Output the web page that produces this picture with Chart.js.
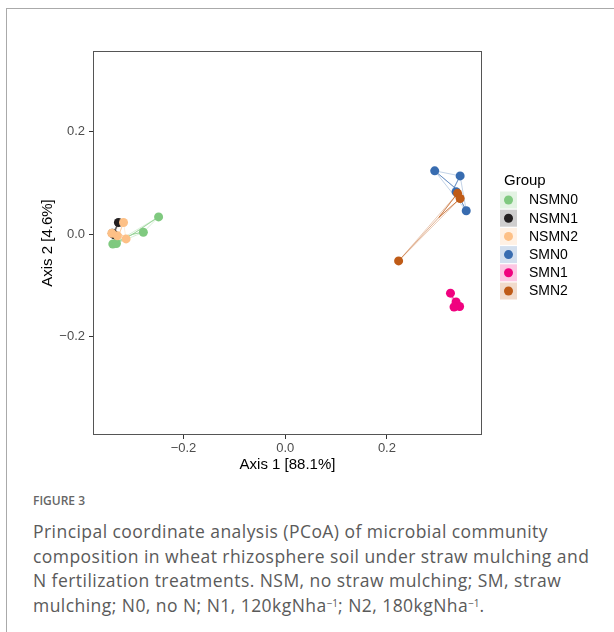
<!DOCTYPE html>
<html>
<head>
<meta charset="utf-8">
<script src="https://cdn.jsdelivr.net/npm/chart.js@4"></script>
<style>
  html, body { margin: 0; padding: 0; background: #fff; }
  body { width: 614px; height: 632px; position: relative; overflow: hidden; }
  .frame { position: absolute; left: 6px; top: 8px; width: 700px; height: 700px;
           border-top: 1px solid #aaa; border-left: 1px solid #aaa; }
  #myChart { position: absolute; left: 0; top: 0; }
  .fig { position: absolute; left: 33px; top: 492px; font-family: "Open Sans", sans-serif;
         font-size: 12px; font-weight: 600; color: #666; }
  .cap { position: absolute; left: 33px; top: 519px; white-space: nowrap; font-family: "Open Sans", sans-serif;
         font-size: 17.5px; letter-spacing: 0.45px; line-height: 24.5px; color: #5a5a5a; }
  .cap sup { font-size: 10px; vertical-align: 5px; line-height: 0; letter-spacing: 0; }
</style>
</head>
<body>
<div class="frame"></div>
<canvas id="myChart" width="614" height="480"></canvas>
<div class="fig">FIGURE 3</div>
<div class="cap">Principal coordinate analysis (PCoA) of microbial community<br>composition in wheat rhizosphere soil under straw mulching and<br>N fertilization treatments. NSM, no straw mulching; SM, straw<br>mulching; N0, no N; N1, 120kgNha<sup>−1</sup>; N2, 180kgNha<sup>−1</sup>.</div>
<script>
// Groups
const groups = ["NSMN0", "NSMN1", "NSMN2", "SMN0", "SMN1", "SMN2"];
const colors = ["#7FC97F", "#231F20", "#FDC086", "#386CB0", "#F0027F", "#BF5B17"];

// Axis 1 / Axis 2 scores per group
const nsmn0X = [-0.249, -0.279, -0.339, -0.332];
const nsmn0Y = [0.034, 0.004, -0.019, -0.018];
const nsmn1X = [-0.328, -0.340, -0.336];
const nsmn1Y = [0.023, 0.002, -0.001];
const nsmn2X = [-0.318, -0.341, -0.313, -0.330];
const nsmn2Y = [0.023, 0.002, -0.009, -0.003];
const smn0X = [0.294, 0.344, 0.356, 0.336];
const smn0Y = [0.124, 0.114, 0.046, 0.083];
const smn1X = [0.325, 0.336, 0.343, 0.332];
const smn1Y = [-0.115, -0.132, -0.141, -0.142];
const smn2X = [0.339, 0.344, 0.223];
const smn2Y = [0.080, 0.070, -0.052];

const xs = [nsmn0X, nsmn1X, nsmn2X, smn0X, smn1X, smn2X];
const ys = [nsmn0Y, nsmn1Y, nsmn2Y, smn0Y, smn1Y, smn2Y];

// Tick labels
const xTicks = [-0.2, 0.0, 0.2];
const yTicks = [-0.2, 0.0, 0.2];

function alpha(hex, a) {
  const n = parseInt(hex.slice(1), 16);
  return `rgba(${n >> 16},${(n >> 8) & 255},${n & 255},${a})`;
}

// convex hull (monotone chain)
function hull(pts) {
  const p = pts.slice().sort((a, b) => a.x - b.x || a.y - b.y);
  if (p.length < 3) return p;
  const cross = (o, a, b) => (a.x - o.x) * (b.y - o.y) - (a.y - o.y) * (b.x - o.x);
  const lower = [], upper = [];
  for (const q of p) {
    while (lower.length >= 2 && cross(lower[lower.length - 2], lower[lower.length - 1], q) <= 0) lower.pop();
    lower.push(q);
  }
  for (let i = p.length - 1; i >= 0; i--) {
    const q = p[i];
    while (upper.length >= 2 && cross(upper[upper.length - 2], upper[upper.length - 1], q) <= 0) upper.pop();
    upper.push(q);
  }
  upper.pop(); lower.pop();
  return lower.concat(upper);
}

const datasets = [];
groups.forEach((g, i) => {
  const pts = xs[i].map((x, k) => ({ x: x, y: ys[i][k] }));
  const cx = xs[i].reduce((a, b) => a + b, 0) / pts.length;
  const cy = ys[i].reduce((a, b) => a + b, 0) / pts.length;
  const h = hull(pts);
  // shaded hull
  datasets.push({
    label: g + " hull", data: h.concat([h[0]]), showLine: true, fill: true,
    backgroundColor: alpha(colors[i], 0.3), borderColor: alpha(colors[i], 0.3), borderWidth: 1,
    pointRadius: 0, order: 30,
  });
  // spider lines from centroid
  const spider = [];
  pts.forEach(p => { spider.push({ x: cx, y: cy }, p); });
  datasets.push({
    label: g + " spider", data: spider, showLine: true, fill: false,
    borderColor: alpha(colors[i], 0.5), borderWidth: 1, pointRadius: 0, order: 20,
  });
  // points
  datasets.push({
    label: g, data: pts, backgroundColor: colors[i], borderColor: colors[i],
    pointRadius: 4.5, borderWidth: 0, order: 10 - i,
  });
});

// plot frame + legend
const extras = {
  id: "extras",
  afterDraw(chart) {
    const { ctx, chartArea: a } = chart;
    ctx.save();
    ctx.strokeStyle = "#555";
    ctx.lineWidth = 1;
    ctx.strokeRect(Math.round(a.left) + 0.5, Math.round(a.top) + 0.5,
      Math.round(a.right - a.left) - 1, Math.round(a.bottom - a.top) - 1);
    ctx.fillStyle = "#000";
    ctx.font = "15px 'Liberation Sans', Arial, sans-serif";
    ctx.textBaseline = "middle";
    ctx.fillText("Group", 504, 181);
    ctx.font = "14px 'Liberation Sans', Arial, sans-serif";
    groups.forEach((g, i) => {
      const y = 200 + i * 18.2;
      ctx.fillStyle = alpha(colors[i], 0.22);
      ctx.fillRect(500, y - 8.5, 17, 17);
      ctx.fillStyle = colors[i];
      ctx.beginPath();
      ctx.arc(508.5, y, 4.5, 0, Math.PI * 2);
      ctx.fill();
      ctx.fillStyle = "#000";
      ctx.fillText(g, 529, y + 0.5);
    });
    ctx.restore();
  },
};

const tickFont = { family: "'Liberation Sans', Arial, sans-serif", size: 13 };
const titleFont = { family: "'Liberation Sans', Arial, sans-serif", size: 15 };
const fmt = v => v.toFixed(1).replace("-", "\u2212");

let myChart = document.getElementById("myChart").getContext("2d");
new Chart(myChart, {
  type: "scatter",
  data: { datasets: datasets },
  options: {
    responsive: false,
    animation: false,
    layout: { padding: { top: 51, right: 132, left: 0, bottom: 0 } },
    plugins: { legend: { display: false }, tooltip: { enabled: false } },
    scales: {
      x: {
        min: -0.378, max: 0.387,
        afterBuildTicks: s => { s.ticks = xTicks.map(v => ({ value: v })); },
        afterFit: s => { s.height = 45; },
        border: { display: false },
        grid: { drawOnChartArea: false, drawTicks: true, tickLength: 4, color: "#333" },
        ticks: { color: "#4d4d4d", font: tickFont, padding: 2, callback: fmt, maxRotation: 0 },
        title: { display: true, text: "Axis 1 [88.1%]", color: "#000", font: titleFont, padding: { top: 0, bottom: 6 } },
      },
      y: {
        min: -0.392, max: 0.358,
        afterBuildTicks: s => { s.ticks = yTicks.map(v => ({ value: v })); },
        afterFit: s => { s.width = 93; },
        border: { display: false },
        grid: { drawOnChartArea: false, drawTicks: true, tickLength: 4, color: "#333" },
        ticks: { color: "#4d4d4d", font: tickFont, padding: 4, callback: fmt },
        title: { display: true, text: "Axis 2 [4.6%]", color: "#000", font: titleFont, padding: { top: 39, bottom: 0 } },
      },
    },
  },
  plugins: [extras],
});
</script>
</body>
</html>
